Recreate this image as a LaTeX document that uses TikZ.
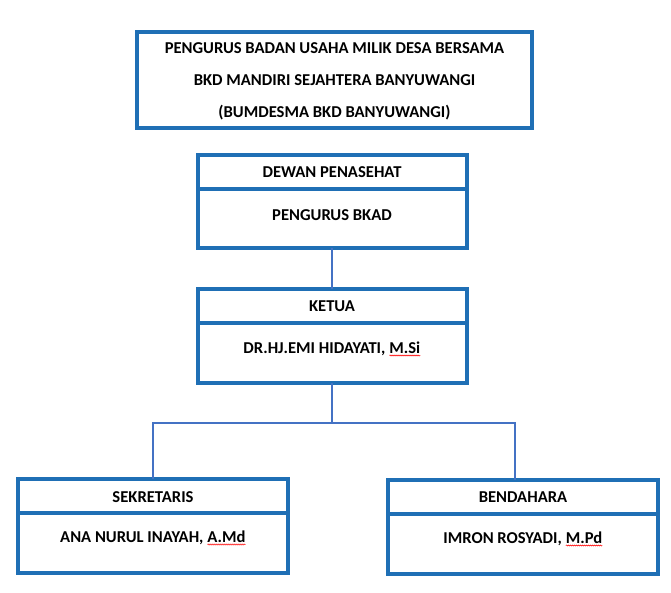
\documentclass[tikz,border=0pt]{standalone}
\usepackage{fontspec}
\setmainfont{Carlito}
\usetikzlibrary{decorations.pathmorphing}
\definecolor{boxblue}{HTML}{1F6FB5}
\definecolor{linkblue}{HTML}{4472C4}
\newcommand{\wavy}[1]{\tikz[baseline=(w.base)]{\node[inner sep=0pt,outer sep=0pt](w){#1};\draw[red,line width=0.5pt,decorate,decoration={snake,amplitude=0.6pt,segment length=2pt}]([yshift=-2.2pt]w.base west)--([yshift=-2.2pt]w.base east);}}
\tikzset{
  box/.style={draw=boxblue,line width=3.2pt},
  link/.style={draw=linkblue,line width=2.6pt},
  lbl/.style={font=\fontsize{16.6}{19}\bfseries\selectfont,inner sep=0pt,anchor=center}
}
\begin{document}
\begin{tikzpicture}[x=1pt,y=-1pt]
\useasboundingbox (0,0) rectangle (671,593);
% title
\draw[box] (137,32) rectangle (532,128);
\node[lbl] (t1) at (334.5,48) {PENGURUS BADAN USAHA MILIK DESA BERSAMA};
\node[lbl] (t2) at (334.5,80) {BKD MANDIRI SEJAHTERA BANYUWANGI};
\node[lbl] (t3) at (334.5,113) {(BUMDESMA BKD BANYUWANGI)};
% dewan
\draw[box] (198,155) rectangle (467,248);
\draw[box] (198,189) -- (467,189);
\coordinate (dB) at (332,248);
\node[lbl] (d1) at (332,172) {DEWAN PENASEHAT};
\node[lbl] (d2) at (332,215) {PENGURUS BKAD};
% ketua
\draw[box] (198,289) rectangle (467,383);
\draw[box] (198,323) -- (467,323);
\coordinate (kT) at (332,289);
\coordinate (kB) at (332,383);
\node[lbl] (k1) at (332,306) {KETUA};
\node[lbl] (k2) at (332,349) {DR.HJ.EMI HIDAYATI, \wavy{M.Si}};
% sekretaris
\draw[box] (18,479) rectangle (288,573);
\draw[box] (18,513) -- (288,513);
\coordinate (sT) at (153,479);
\node[lbl] (s1) at (153,497) {SEKRETARIS};
\node[lbl] (s2) at (153,538) {ANA NURUL INAYAH, \wavy{A.Md}};
% bendahara
\draw[box] (388,480) rectangle (658,574);
\draw[box] (388,514) -- (658,514);
\coordinate (bT) at (515,480);
\node[lbl] (b1) at (523,497) {BENDAHARA};
\node[lbl] (b2) at (523,539) {IMRON ROSYADI, \wavy{M.Pd}};
% connectors
\coordinate (j) at (332,423);
\draw[link] (dB) -- (kT);
\draw[link] (kB) -- (j);
\draw[link] (sT) |- (j) -| (bT);
\end{tikzpicture}
\end{document}
